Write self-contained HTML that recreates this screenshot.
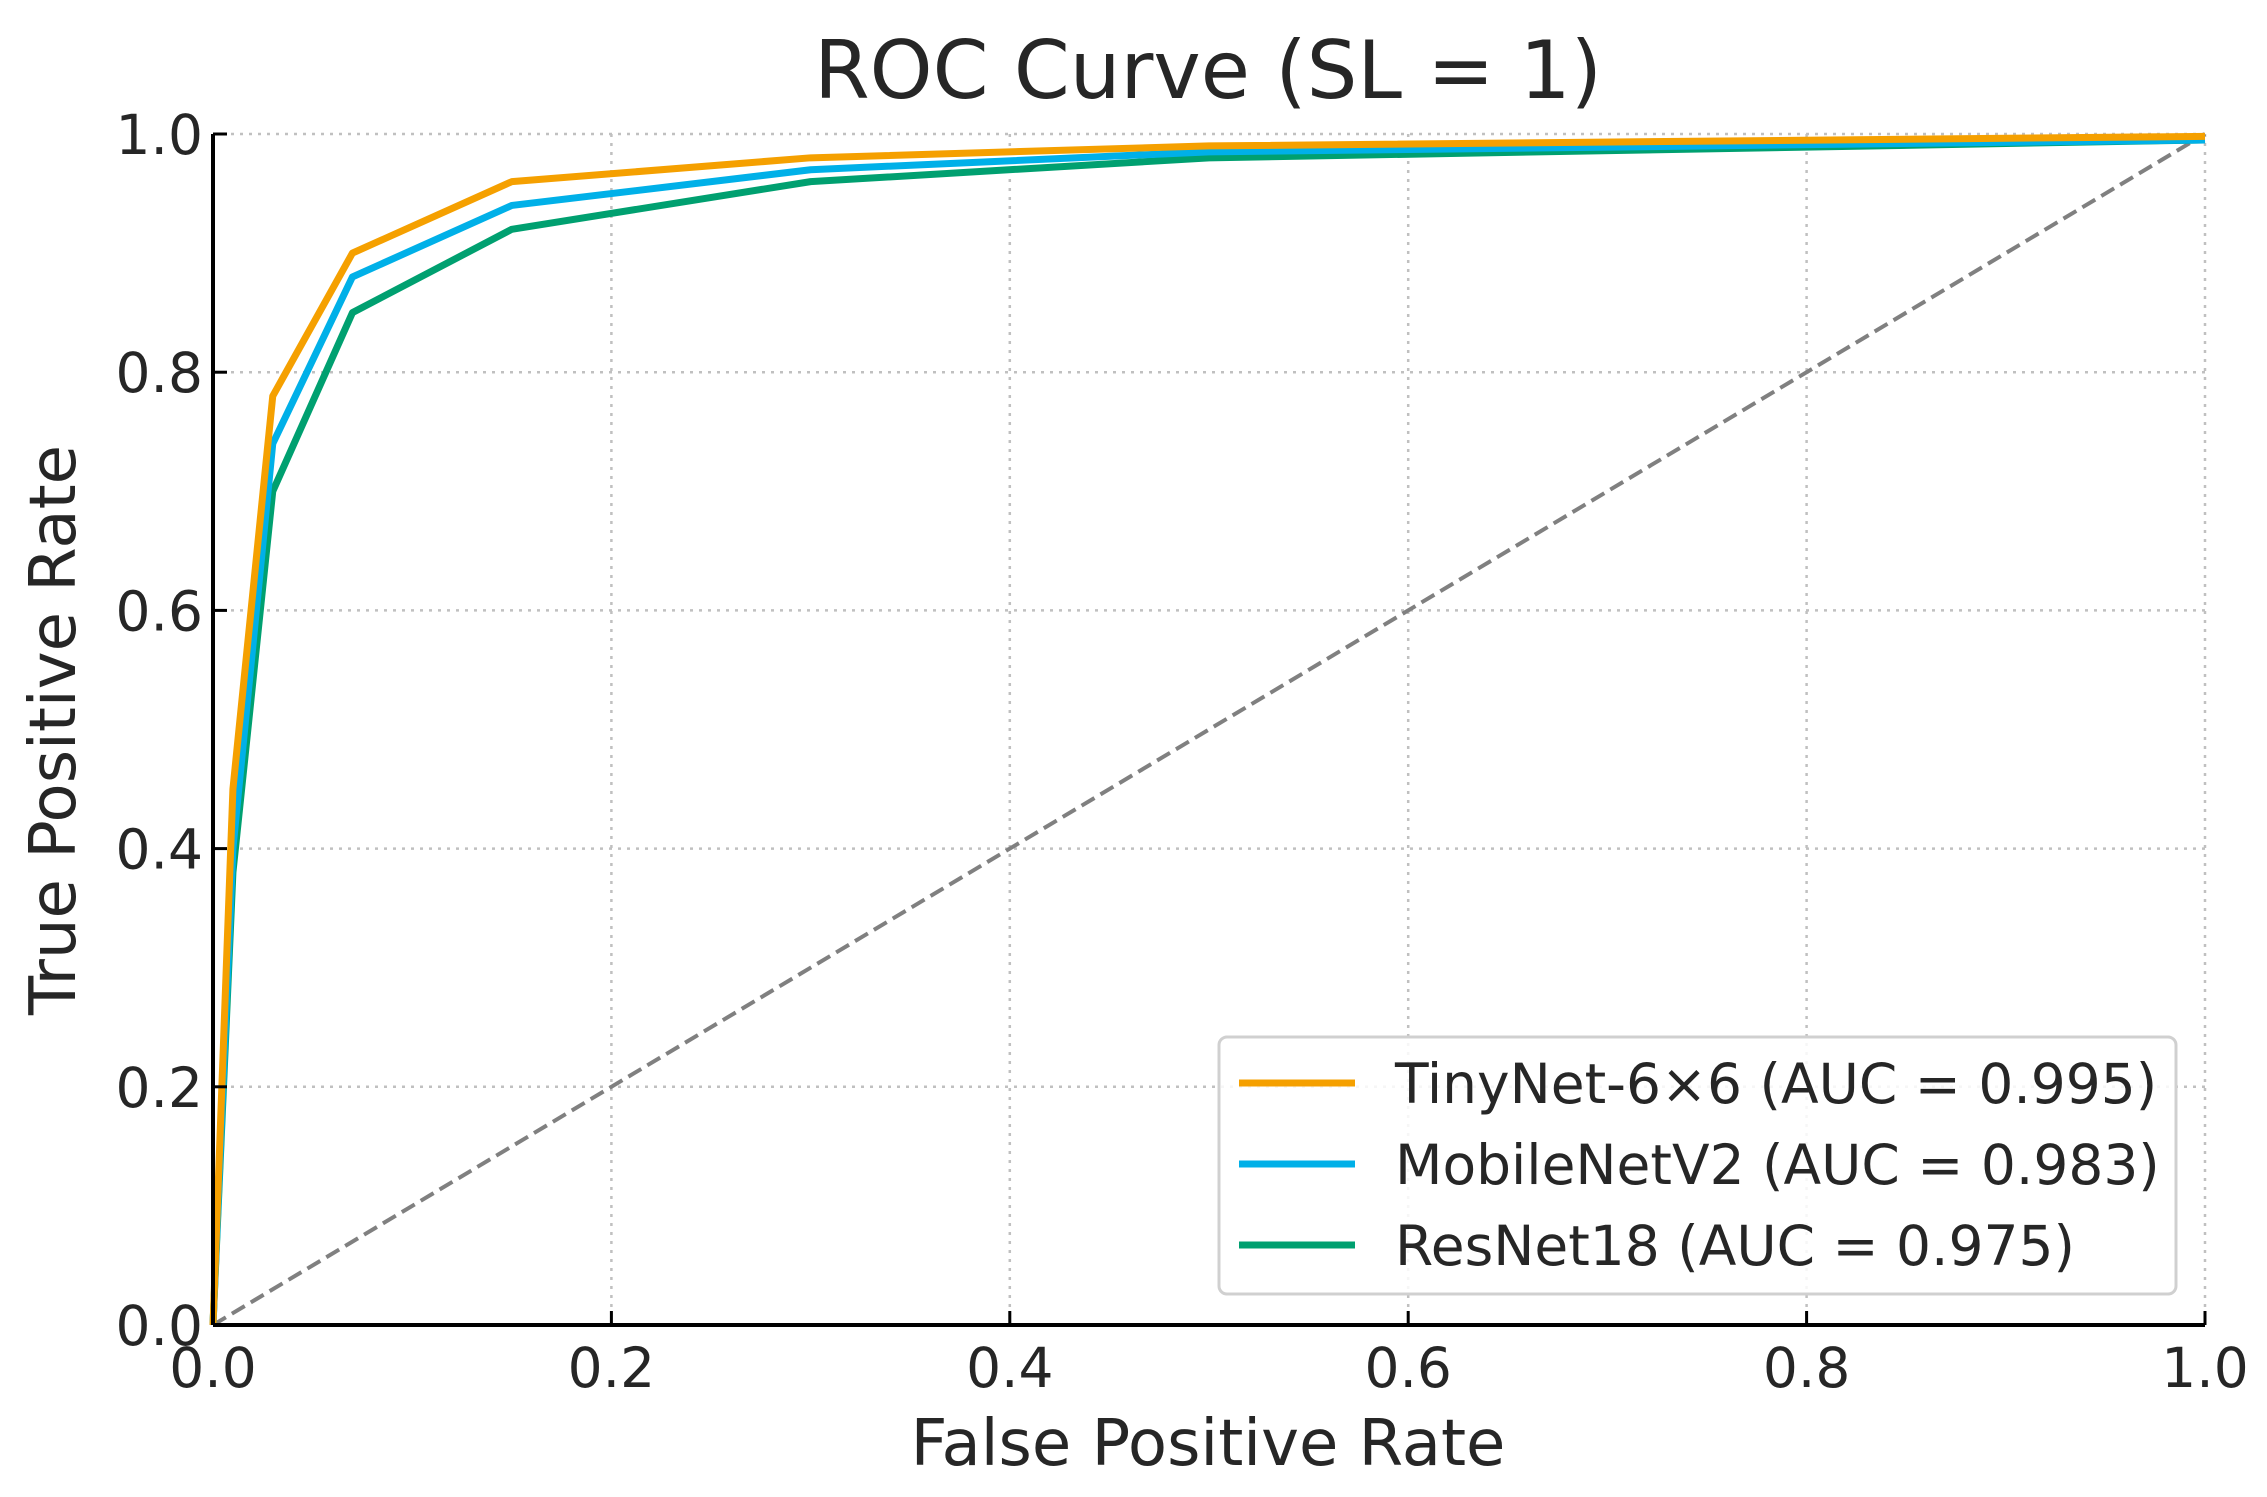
<!DOCTYPE html>
<html><head><meta charset="utf-8"><style>
html,body{margin:0;padding:0;background:#fff;}
svg{display:block;font-family:"DejaVu Sans","Liberation Sans",sans-serif;}
</style></head><body>
<svg id="chart" width="2267" height="1497" viewBox="0 0 2267 1497" xmlns="http://www.w3.org/2000/svg">
<rect width="2267" height="1497" fill="#fff"/>
<g id="grid"></g>
<line id="diag" stroke="#808080" stroke-width="4" stroke-dasharray="15,7"/>
<g id="series"></g>
<g id="axes"></g>
<text x="1208" y="98" text-anchor="middle" font-size="80" fill="#262626">ROC Curve (SL = 1)</text>
<text x="1208" y="1465" text-anchor="middle" font-size="64" fill="#262626">False Positive Rate</text>
<text transform="translate(75,730) rotate(-90)" text-anchor="middle" font-size="64" fill="#262626">True Positive Rate</text>
<g id="legend"></g>
</svg>
<script>
const ticks = [0, 0.2, 0.4, 0.6, 0.8, 1.0];
const tickLabels = ["0.0", "0.2", "0.4", "0.6", "0.8", "1.0"];
const seriesNames = ["TinyNet-6×6 (AUC = 0.995)", "MobileNetV2 (AUC = 0.983)", "ResNet18 (AUC = 0.975)"];
const seriesColors = ["#F5A000", "#00B0E8", "#00A070"];
const fprTiny = [0, 0.01, 0.03, 0.07, 0.15, 0.3, 0.5, 1.0];
const tprTiny = [0, 0.45, 0.78, 0.90, 0.96, 0.98, 0.99, 0.998];
const fprMobile = [0, 0.01, 0.03, 0.07, 0.15, 0.3, 0.5, 1.0];
const tprMobile = [0, 0.40, 0.74, 0.88, 0.94, 0.97, 0.985, 0.995];
const fprRes = [0, 0.01, 0.03, 0.07, 0.15, 0.3, 0.5, 1.0];
const tprRes = [0, 0.38, 0.70, 0.85, 0.92, 0.96, 0.98, 0.995];

const NS = "http://www.w3.org/2000/svg";
const X0 = 213, X1 = 2205, Y0 = 1325, Y1 = 134;
const xs = v => X0 + v * (X1 - X0);
const ys = v => Y0 - v * (Y0 - Y1);
function mk(tag, attrs, parent) {
  const e = document.createElementNS(NS, tag);
  for (const k in attrs) e.setAttribute(k, attrs[k]);
  parent.appendChild(e);
  return e;
}
const grid = document.getElementById('grid');
const axes = document.getElementById('axes');
ticks.forEach((t, i) => {
  const gv = mk('line', {x1: xs(t), x2: xs(t), y1: Y1, y2: Y0, stroke: '#c0c0c0', 'stroke-width': 2.5, 'stroke-dasharray': '3,6'}, grid);
  
  
  const gh = mk('line', {x1: X0, x2: X1, y1: ys(t), y2: ys(t), stroke: '#c0c0c0', 'stroke-width': 2.5, 'stroke-dasharray': '3,6'}, grid);
  
  
  const tx = mk('line', {x1: xs(t), x2: xs(t), y1: Y0, y2: Y0 - 14, stroke: '#000', 'stroke-width': 3}, axes);
  
  
  const ty = mk('line', {x1: X0, x2: X0 + 14, y1: ys(t), y2: ys(t), stroke: '#000', 'stroke-width': 3}, axes);
  
  
  const lx = mk('text', {x: xs(t), y: Y0 + 62, 'text-anchor': 'middle', 'font-size': 55, fill: '#262626'}, axes);
  lx.textContent = tickLabels[i];
  
  
  const ly = mk('text', {x: X0 - 10, y: ys(t) + 20, 'text-anchor': 'end', 'font-size': 55, fill: '#262626'}, axes);
  ly.textContent = tickLabels[i];
  
  
});
const diag = document.getElementById('diag');
diag.setAttribute('x1', xs(0)); diag.setAttribute('y1', ys(0));
diag.setAttribute('x2', xs(1)); diag.setAttribute('y2', ys(1));

const sg = document.getElementById('series');
const allX = [fprTiny, fprMobile, fprRes], allY = [tprTiny, tprMobile, tprRes];
const seriesKeys = ['tinynet', 'mobilenetv2', 'resnet18'];
[2, 1, 0].forEach(s => {
  const pts = allX[s].map((v, i) => xs(v) + ',' + ys(allY[s][i])).join(' ');
  const pl = mk('polyline', {points: pts, fill: 'none', stroke: seriesColors[s], 'stroke-width': 7, 'stroke-linejoin': 'round'}, sg);
  
  
});
const sl = mk('line', {x1: X0, x2: X0, y1: Y1, y2: Y0, stroke: '#000', 'stroke-width': 4}, axes);


const sb = mk('line', {x1: X0, x2: X1, y1: Y0, y2: Y0, stroke: '#000', 'stroke-width': 4}, axes);



const lg = document.getElementById('legend');
const box = mk('rect', {x: 1219, y: 1037, width: 957, height: 257, rx: 8, fill: '#fff', 'fill-opacity': 0.85, stroke: '#d0d0d0', 'stroke-width': 3}, lg);


seriesNames.forEach((n, i) => {
  const y = 1083 + i * 81;
  const ln = mk('line', {x1: 1239, x2: 1355, y1: y, y2: y, stroke: seriesColors[i], 'stroke-width': 7}, lg);
  
  
  const t = mk('text', {x: 1395, y: y + 20, 'font-size': 55, fill: '#262626'}, lg);
  t.textContent = n;
  
  
});
</script>
</body></html>
